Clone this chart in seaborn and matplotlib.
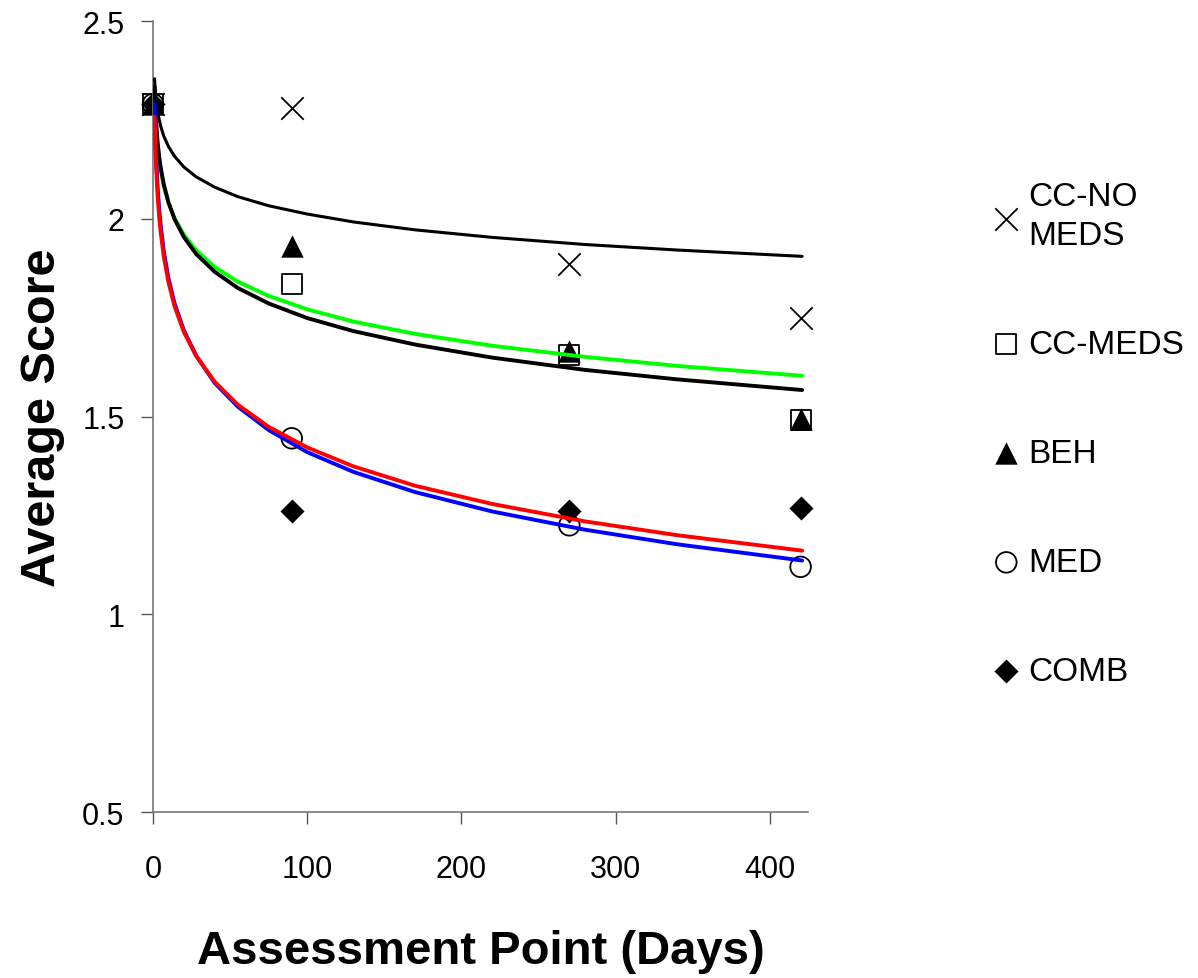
import numpy as np
import pandas as pd
import matplotlib
matplotlib.use("Agg")
import matplotlib.pyplot as plt
import seaborn as sns

# observed group means at each assessment point
days = [0, 90, 270, 420]
cc_no_meds = [2.29, 2.28, 1.885, 1.75]
cc_meds = [2.29, 1.835, 1.655, 1.49]
beh = [2.29, 1.93, 1.665, 1.495]
med = [2.29, 1.445, 1.225, 1.12]
comb = [2.29, 1.26, 1.262, 1.27]

# trend curves
curve_days = [1, 1.5, 2, 3, 4, 5, 7, 10, 14, 20, 28, 40, 55, 75, 100, 130, 170, 220, 280, 340, 421]
trend_cc_no_meds = [2.354, 2.324, 2.302, 2.272, 2.251, 2.234, 2.209, 2.183, 2.158, 2.131, 2.106,
                    2.080, 2.056, 2.033, 2.012, 1.992, 1.972, 1.953, 1.935, 1.921, 1.905]
trend_cc_meds = [2.310, 2.263, 2.229, 2.181, 2.148, 2.122, 2.082, 2.041, 2.001, 1.960, 1.920,
                 1.878, 1.841, 1.805, 1.771, 1.740, 1.709, 1.679, 1.651, 1.628, 1.603]
trend_beh = [2.334, 2.283, 2.246, 2.194, 2.158, 2.130, 2.087, 2.042, 1.999, 1.954, 1.911,
             1.866, 1.825, 1.786, 1.749, 1.716, 1.682, 1.649, 1.618, 1.594, 1.567]
trend_med = [2.290, 2.213, 2.158, 2.080, 2.025, 1.983, 1.918, 1.850, 1.786, 1.718, 1.654,
             1.585, 1.525, 1.466, 1.410, 1.360, 1.309, 1.260, 1.214, 1.177, 1.136]
trend_comb = [2.258, 2.185, 2.132, 2.058, 2.006, 1.966, 1.905, 1.840, 1.779, 1.714, 1.653,
              1.588, 1.530, 1.474, 1.422, 1.374, 1.325, 1.279, 1.235, 1.200, 1.161]

groups = ["CC-NO\nMEDS", "CC-MEDS", "BEH", "MED", "COMB"]
points = pd.DataFrame({
    "day": days * 5,
    "score": cc_no_meds + cc_meds + beh + med + comb,
    "group": np.repeat(groups, len(days)),
})
trends = pd.DataFrame({
    "day": curve_days * 5,
    "score": trend_cc_no_meds + trend_cc_meds + trend_beh + trend_med + trend_comb,
    "group": np.repeat(groups, len(curve_days)),
})

sns.set_style("white")
plt.rcParams["font.family"] = ["Liberation Sans", "DejaVu Sans"]
plt.rcParams["text.color"] = "black"
plt.rcParams["axes.labelcolor"] = "black"
plt.rcParams["xtick.color"] = "black"
plt.rcParams["ytick.color"] = "black"

fig = plt.figure(figsize=(11.98, 9.79), dpi=100)
ax = fig.add_axes([0.1277, 0.1695, 0.547, 0.808])

line_colors = {"CC-NO\nMEDS": "black", "CC-MEDS": "#00ff00", "BEH": "black",
               "MED": "#0000ff", "COMB": "#ff0000"}
line_widths = {"CC-NO\nMEDS": 2.2, "CC-MEDS": 2.8, "BEH": 2.8, "MED": 2.8, "COMB": 2.8}
for g in groups:
    sub = trends[trends.group == g]
    sns.lineplot(data=sub, x="day", y="score", color=line_colors[g],
                 linewidth=line_widths[g], ax=ax, legend=False, zorder=3)

marker_style = {
    "CC-NO\nMEDS": dict(marker="x", s=260, color="black", linewidths=1.3),
    "CC-MEDS": dict(marker="s", s=220, facecolor="white", edgecolor="black", linewidths=1.3),
    "BEH": dict(marker="^", s=260, color="black", linewidths=0),
    "MED": dict(marker="o", s=220, facecolor="none", edgecolor="black", linewidths=1.3),
    "COMB": dict(marker="D", s=150, color="black", linewidths=0),
}
for g in groups:
    sub = points[points.group == g]
    ax.scatter(sub.day, sub.score, label=g, zorder=2, clip_on=False, **marker_style[g])

ax.set_xlim(0, 425)
ax.set_ylim(0.5, 2.5)
ax.set_xticks([0, 100, 200, 300, 400])
ax.set_yticks([0.5, 1, 1.5, 2, 2.5])
ax.set_yticklabels(["0.5", "1", "1.5", "2", "2.5"])
ax.tick_params(axis="both", labelsize=22, direction="out", length=8.5, width=1,
               color="#555555", left=True, bottom=True)
ax.tick_params(axis="y", pad=12)
ax.tick_params(axis="x", pad=22)

sns.despine(ax=ax)
for side in ["left", "bottom"]:
    ax.spines[side].set_color("#777777")
    ax.spines[side].set_linewidth(1.2)

ax.set_xlabel("Assessment Point (Days)", fontsize=34, fontweight="bold", labelpad=32)
ax.set_ylabel("Average Score", fontsize=35, fontweight="bold", labelpad=12)

leg = ax.legend(loc="upper left", bbox_to_anchor=(1.264, 0.815), frameon=False,
                fontsize=24, markerscale=1.0, handlelength=0.7, handletextpad=0.3,
                labelspacing=2.34, borderaxespad=0)
for t in leg.get_texts():
    t.set_linespacing(1.35)

fig.savefig("out.png", dpi=100)
